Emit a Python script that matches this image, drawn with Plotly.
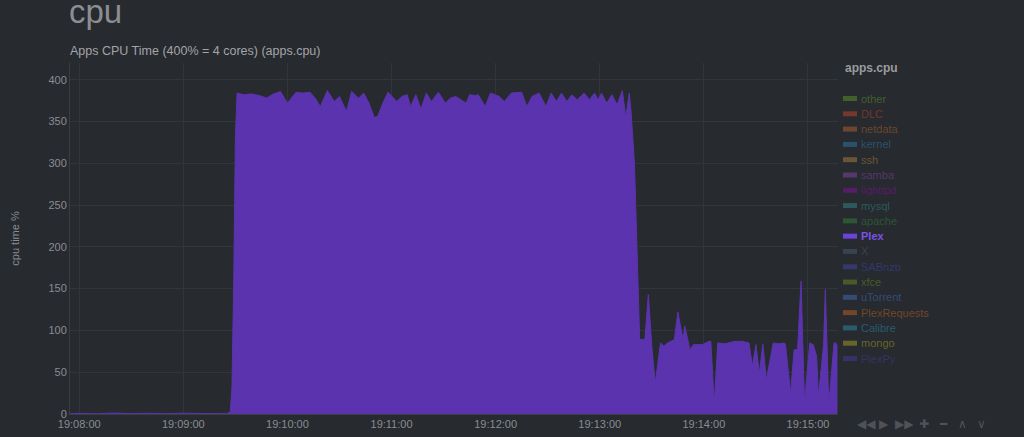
import datetime as dt
import plotly.graph_objects as go

# ---- data ----
base = dt.datetime(2017, 1, 1, 19, 8, 0)
seconds = [-5, 0, 10, 20, 30, 40, 50, 60, 70, 80, 85, 87, 88, 89, 90,
           91, 95, 99, 104, 108, 112, 116, 120, 125, 129, 133, 136, 139, 143,
           147, 150, 154, 157, 161, 164, 167, 170, 172, 175, 178, 183, 186, 189,
           191, 194, 197, 200, 203, 207, 211, 214, 217, 220, 223, 225, 228, 230,
           234, 237, 242, 245, 249, 255, 258, 261, 265, 269, 272, 275, 278, 281,
           284, 287, 291, 294, 297, 299, 301, 304, 307, 310, 313, 315, 317, 318,
           320, 322, 323, 326, 328, 330, 332, 335, 337, 339, 343, 345, 348, 349,
           352, 354, 359, 363, 364, 366, 368, 372, 378, 382, 386, 388, 390, 392,
           394, 396, 400, 403, 406, 407, 410, 412, 414, 416, 418, 421, 423, 425,
           426, 429, 430, 432, 435, 436, 437]
plex = [0.5, 0.8, 0.3, 1.2, 0.5, 0.9, 0.4, 1.0, 0.6, 0.8, 0.5, 2, 30, 150, 330,
        384, 382, 383, 381, 378, 383, 386, 372, 385, 384, 385, 378, 368, 387,
        374, 380, 362, 386, 378, 384, 372, 355, 356, 372, 385, 374, 380, 382,
        368, 382, 365, 384, 374, 385, 372, 378, 380, 376, 372, 382, 381, 382,
        368, 384, 380, 374, 384, 385, 368, 380, 384, 368, 384, 374, 384, 374,
        382, 376, 384, 376, 384, 376, 384, 372, 382, 370, 387, 355, 384, 363,
        300, 161, 89, 89, 143, 81, 37, 85, 81, 85, 89, 122, 89, 105,
        77, 83, 83, 87, 87, 13, 85, 84, 87, 87, 85, 57, 83, 49,
        84, 41, 85, 84, 85, 84, 25, 77, 77, 159, 14, 85, 83, 69,
        21, 83, 149, 11, 85, 85, 81]

y_ticks = [0, 50, 100, 150, 200, 250, 300, 350, 400]
x_tick_labels = ["19:08:00", "19:09:00", "19:10:00", "19:11:00",
                 "19:12:00", "19:13:00", "19:14:00", "19:15:00"]

legend_names = ["other", "DLC", "netdata", "kernel", "ssh", "samba", "lighttpd",
                "mysql", "apache", "Plex", "X", "SABnzb", "xfce", "uTorrent",
                "PlexRequests", "Calibre", "mongo", "PlexPy"]
legend_colors = ["#42602b", "#74382c", "#6a472e", "#2a526b", "#6a5636", "#56386a",
                 "#561d66", "#2c5a5c", "#2c5634", "#6d42da", "#384352", "#34386b",
                 "#475a28", "#344c75", "#744628", "#285c6b", "#666628", "#363266"]

# ---- figure ----
times = [base + dt.timedelta(seconds=s) for s in seconds]
tick_vals = [base + dt.timedelta(minutes=i) for i in range(len(x_tick_labels))]

BG = "#272a2f"
PURPLE = "#5b33ae"

fig = go.Figure()
fig.add_trace(go.Scatter(
    x=times, y=plex, mode="lines", fill="tozeroy",
    line=dict(color=PURPLE, width=1, shape="linear"),
    fillcolor=PURPLE, showlegend=False, hoverinfo="skip"))

L, R, T, B = 70, 186, 63, 23
W, H = 1024, 437
pw, ph = W - L - R, H - T - B


def px(x):
    return (x - L) / pw


def py(y):
    return (H - B - y) / ph


fig.update_layout(
    width=W, height=H,
    margin=dict(l=L, r=R, t=T, b=B, autoexpand=False),
    paper_bgcolor=BG, plot_bgcolor=BG,
    font=dict(family="Liberation Sans, Arial, sans-serif", color="#8a8d91", size=11),
    showlegend=False,
)
fig.update_xaxes(
    range=[base - dt.timedelta(seconds=5.3), base + dt.timedelta(seconds=437.3)],
    tickvals=tick_vals, ticktext=x_tick_labels, automargin=False,
    showgrid=True, gridcolor="#32363b", gridwidth=1,
    showline=True, linecolor="#3a3e44", zeroline=False,
    tickfont=dict(size=11, color="#8a8d91"), ticks="", ticklabelstandoff=0,
)
fig.update_yaxes(
    range=[0, 420], tickvals=y_ticks, automargin=False,
    showgrid=True, gridcolor="#32363b", gridwidth=1,
    showline=True, linecolor="#3a3e44", zeroline=False,
    tickfont=dict(size=11, color="#8a8d91"), ticks="",
    title=dict(text="cpu time %", font=dict(size=11, color="#8a8d91"), standoff=26),
)

ann = []
ann.append(dict(text="cpu", x=px(67), y=py(23), xref="paper", yref="paper",
                xanchor="left", yanchor="bottom", yshift=-9, showarrow=False,
                font=dict(size=33, color="#8c8e91")))
ann.append(dict(text="Apps CPU Time (400% = 4 cores) (apps.cpu)", x=px(68), y=py(51),
                xref="paper", yref="paper", xanchor="left", yanchor="middle",
                showarrow=False, font=dict(size=12.5, color="#a3a5a8")))
ann.append(dict(text="<b>apps.cpu</b>", x=px(843), y=py(68), xref="paper", yref="paper",
                xanchor="left", yanchor="middle", showarrow=False,
                font=dict(size=12, color="#9a9c9f")))

shapes = []
y0 = 98.5
step = (358.5 - 98.5) / (len(legend_names) - 1)
for i, (name, col) in enumerate(zip(legend_names, legend_colors)):
    yy = y0 + i * step
    is_plex = name == "Plex"
    ann.append(dict(text=("<b>%s</b>" % name) if is_plex else name,
                    x=px(859), y=py(yy), xref="paper", yref="paper",
                    xanchor="left", yanchor="middle", showarrow=False,
                    font=dict(size=11, color=("#7c52e6" if is_plex else col))))
    shapes.append(dict(type="rect", xref="paper", yref="paper",
                       x0=px(843), x1=px(857), y0=py(yy + 2.5), y1=py(yy - 2.5),
                       fillcolor=col, line=dict(width=0)))

controls = [("◀◀", 866), ("▶", 884), ("▶▶", 904), ("✚", 924), ("━", 943), ("∧", 962), ("∨", 981)]
for sym, cx in controls:
    ann.append(dict(text=sym, x=px(cx), y=py(424), xref="paper", yref="paper",
                    xanchor="center", yanchor="middle", showarrow=False,
                    font=dict(size=12, color="#4f5359", family="DejaVu Sans")))

fig.update_layout(annotations=ann, shapes=shapes)
fig.write_html(
    "out.html",
    config={"displayModeBar": False},
    post_script="document.body.style.margin='0';document.body.style.background='#272a2f';",
)
